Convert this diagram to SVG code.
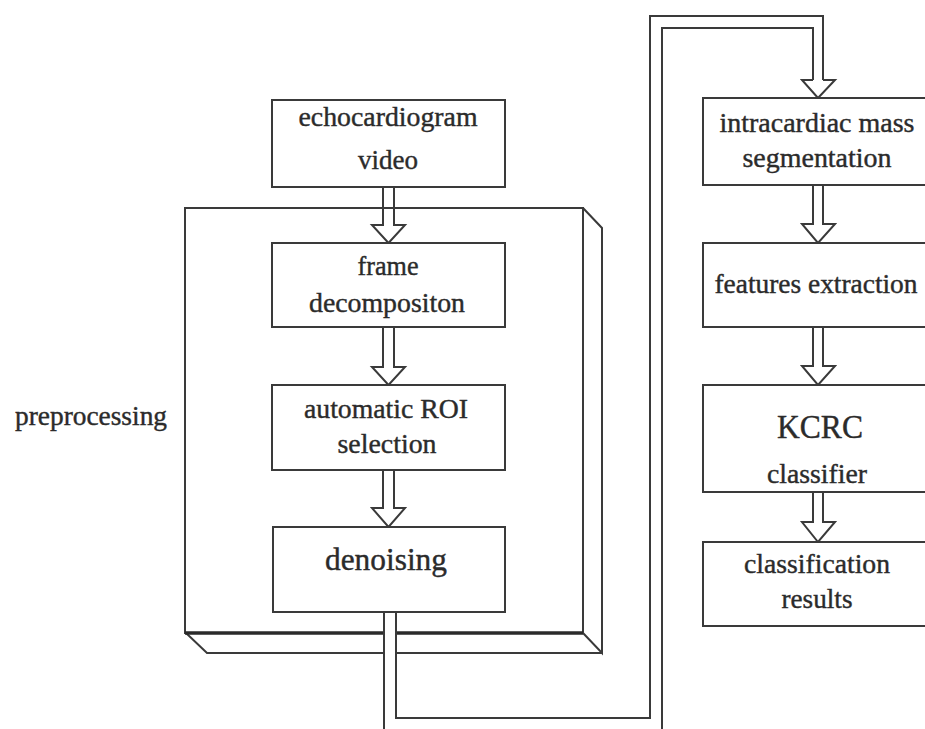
<svg xmlns="http://www.w3.org/2000/svg" width="925" height="729" viewBox="0 0 925 729">
  <defs>
    <style>
      .box { fill: #ffffff; stroke: #3a3a3a; stroke-width: 2; }
      .edge { fill: none; stroke: #3a3a3a; stroke-width: 2; stroke-linejoin: miter; }
      .thick { fill: none; stroke: #2a2a2a; stroke-width: 3.5; }
      .arrow { fill: none; stroke: #3a3a3a; stroke-width: 2; stroke-linejoin: miter; }
      .pipe-fill { fill: none; stroke: #ffffff; stroke-width: 10; stroke-linejoin: miter; stroke-linecap: square; }
      .lbl { fill: #2b2b2b; stroke: #2b2b2b; stroke-width: 0.4; text-anchor: middle; }
      .s26 { font-size: 27px; }
      .s30 { font-size: 31px; }
      .s32 { font-size: 33px; }
    </style>
  </defs>

  <g font-family="'Liberation Serif', 'DejaVu Serif', serif">
  <!-- preprocessing block: front face with right and bottom depth faces -->
  <g id="preprocessing">
    <rect class="box" x="185" y="208" width="398" height="425"/>
    <path class="edge" d="M583,208 L602,228 L602,653 L583,633"/>
    <path class="edge" d="M186,633 L207,653 L602,653"/>
    <line class="thick" x1="185" y1="633" x2="583" y2="633"/>
    <text class="lbl s26" x="91" y="425" textLength="152" lengthAdjust="spacingAndGlyphs">preprocessing</text>
  </g>

  <!-- connectors -->
  <g id="connectors">
    <!-- double-walled pipe from denoising round to intracardiac mass segmentation -->
    <path class="pipe-fill" d="M390,614 L390,724 L656,724 L656,22 L818,22 L818,80"/>
    <path class="edge" d="M384,613 L384,740"/>
    <path class="edge" d="M396,613 L396,718 L650,718 L650,16 L823,16 L823,80"/>
    <path class="edge" d="M662,740 L662,28 L813,28 L813,80"/>
    <path class="arrow" d="M813,80 L802,80 L818,98 L835,80 L823,80"/>

    <!-- hollow block arrows, left column -->
    <path class="arrow" d="M383,187 L383,225 L372,225 L388.5,243 L405,225 L394,225 L394,187"/>
    <path class="arrow" d="M383,327 L383,367 L372,367 L388.5,385 L405,367 L394,367 L394,327"/>
    <path class="arrow" d="M383,470 L383,508 L372,508 L388.5,527 L405,508 L394,508 L394,470"/>

    <!-- hollow block arrows, right column -->
    <path class="arrow" d="M813,185 L813,224 L802,224 L818,243 L835,224 L823,224 L823,185"/>
    <path class="arrow" d="M813,327 L813,366 L802,366 L818,385 L835,366 L823,366 L823,327"/>
    <path class="arrow" d="M813,492 L813,522 L802,522 L818,542 L835,522 L823,522 L823,492"/>
  </g>

  <!-- left column -->
  <g id="echocardiogram-video">
    <rect class="box" x="272" y="100" width="233" height="87"/>
    <text class="lbl s26" x="388" y="126" textLength="179" lengthAdjust="spacingAndGlyphs">echocardiogram</text>
    <text class="lbl s26" x="388" y="169">video</text>
  </g>

  <g id="frame-decomposition">
    <rect class="box" x="272" y="243" width="233" height="84"/>
    <text class="lbl s26" x="388" y="275" textLength="61" lengthAdjust="spacingAndGlyphs">frame</text>
    <text class="lbl s26" x="387" y="312" textLength="156" lengthAdjust="spacingAndGlyphs">decompositon</text>
  </g>

  <g id="roi-selection">
    <rect class="box" x="272" y="385" width="233" height="85"/>
    <text class="lbl s26" x="386" y="418" textLength="164" lengthAdjust="spacingAndGlyphs">automatic ROI</text>
    <text class="lbl s26" x="387" y="453" textLength="99" lengthAdjust="spacingAndGlyphs">selection</text>
  </g>

  <g id="denoising">
    <rect class="box" x="273" y="527" width="232" height="85"/>
    <text class="lbl s30" x="386" y="570" textLength="122" lengthAdjust="spacingAndGlyphs">denoising</text>
  </g>

  <!-- right column (boxes run past the right edge) -->
  <g id="mass-segmentation">
    <rect class="box" x="703" y="98" width="240" height="87"/>
    <text class="lbl s26" x="817" y="132" textLength="195" lengthAdjust="spacingAndGlyphs">intracardiac mass</text>
    <text class="lbl s26" x="817" y="167" textLength="149" lengthAdjust="spacingAndGlyphs">segmentation</text>
  </g>

  <g id="features-extraction">
    <rect class="box" x="703" y="243" width="240" height="84"/>
    <text class="lbl s26" x="816" y="293" textLength="203" lengthAdjust="spacingAndGlyphs">features extraction</text>
  </g>

  <g id="kcrc-classifier">
    <rect class="box" x="703" y="385" width="240" height="107"/>
    <text class="lbl s32" x="820" y="438" textLength="86" lengthAdjust="spacingAndGlyphs">KCRC</text>
    <text class="lbl s26" x="817" y="483" textLength="100" lengthAdjust="spacingAndGlyphs">classifier</text>
  </g>

  <g id="classification-results">
    <rect class="box" x="703" y="542" width="240" height="84"/>
    <text class="lbl s26" x="817" y="573" textLength="146" lengthAdjust="spacingAndGlyphs">classification</text>
    <text class="lbl s26" x="817" y="608" textLength="71" lengthAdjust="spacingAndGlyphs">results</text>
  </g>
  </g>
</svg>
